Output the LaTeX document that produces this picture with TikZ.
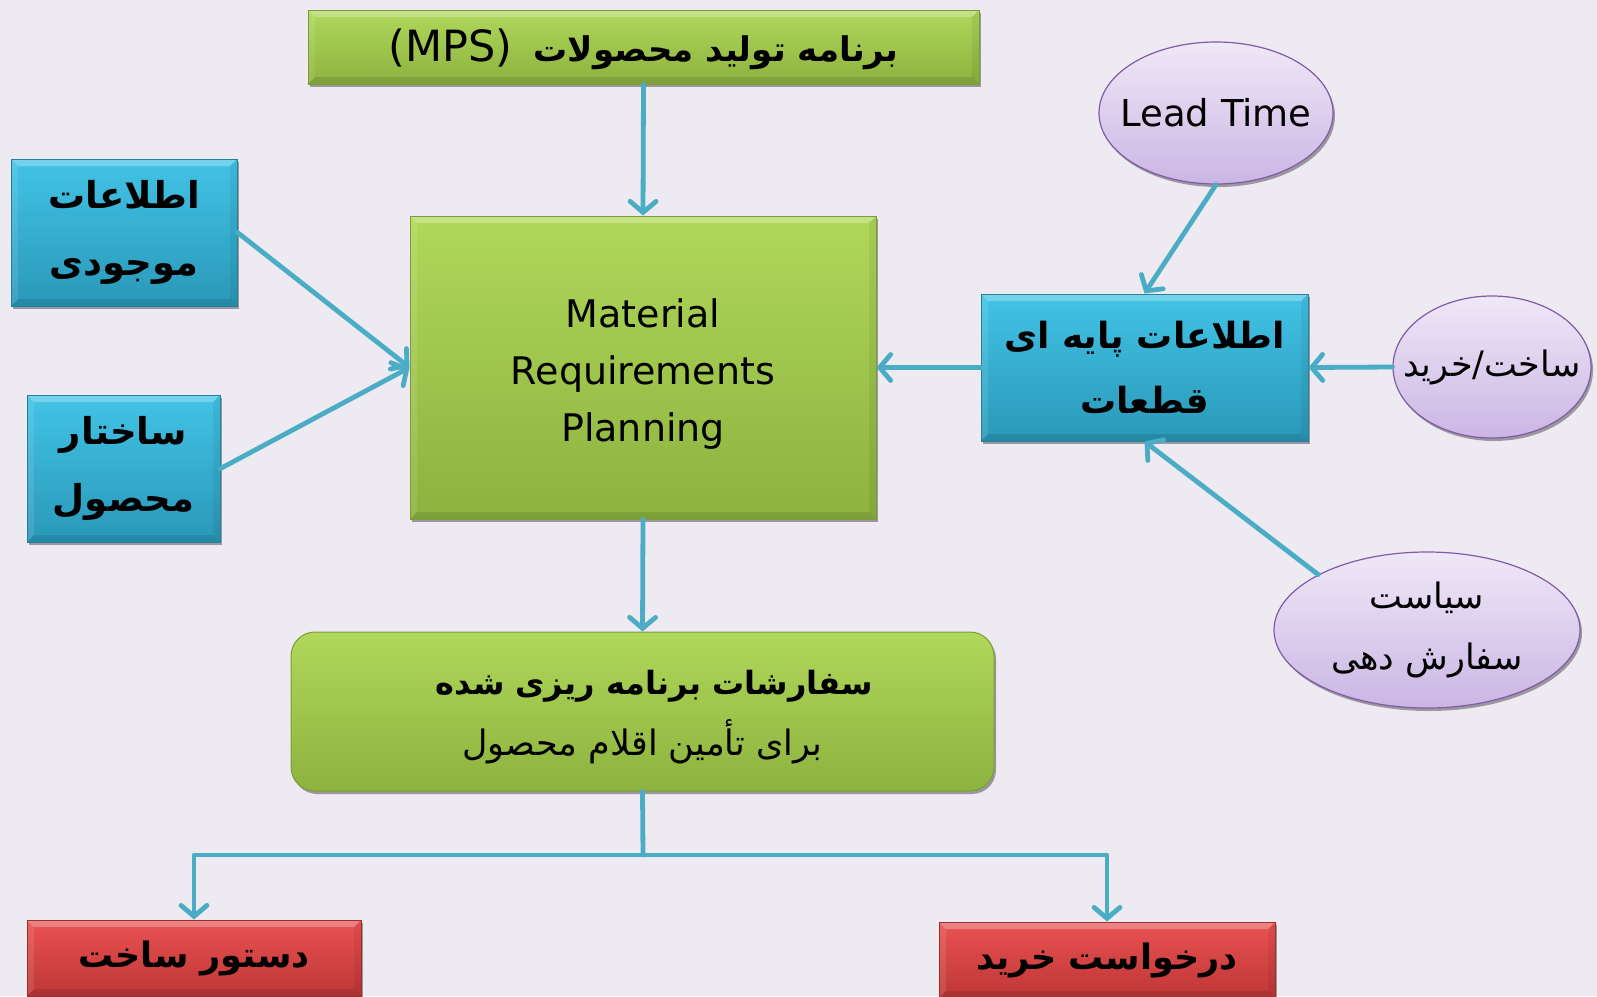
\documentclass[tikz,border=0pt]{standalone}
\usepackage{fontspec}
\setmainfont{DejaVu Sans}
\newfontfamily\ar[Script=Arabic]{DejaVu Sans}
\TeXXeTstate=1
\usetikzlibrary{arrows.meta,shadows,shapes.geometric}

\definecolor{bg}{HTML}{EDEAF1}
\definecolor{grnT}{HTML}{B0D85A}
\definecolor{grnD}{HTML}{8DB23F}
\definecolor{grnB}{HTML}{7C9C3A}
\definecolor{bluT}{HTML}{42C3E6}
\definecolor{bluD}{HTML}{2A98B8}
\definecolor{bluB}{HTML}{24809C}
\definecolor{redT}{HTML}{E95252}
\definecolor{redD}{HTML}{BF3636}
\definecolor{redB}{HTML}{9E2E2E}
\definecolor{ovT}{HTML}{EFE8F7}
\definecolor{ovD}{HTML}{CBB6E4}
\definecolor{ovB}{HTML}{7F5BA8}
\definecolor{lnk}{HTML}{4BACC6}

\newcommand\rl[1]{\beginR#1\endR}
\newcommand\fs[2]{\fontsize{#1}{#2}\selectfont}
% centred line that does not widen its node
\newcommand\zw[1]{\makebox[0pt]{#1}}

\tikzset{
  boxshadow/.style={drop shadow={shadow xshift=2pt,shadow yshift=-3pt,opacity=0.35,fill=black}},
  bevel/.style={path picture={
      \fill[white,opacity=0.28] (path picture bounding box.north west) -- (path picture bounding box.north east)
        -- ([xshift=-7pt,yshift=-7pt]path picture bounding box.north east)
        -- ([xshift=7pt,yshift=-7pt]path picture bounding box.north west) -- cycle;
      \fill[black,opacity=0.10] (path picture bounding box.south west) -- (path picture bounding box.south east)
        -- ([xshift=-7pt,yshift=7pt]path picture bounding box.south east)
        -- ([xshift=7pt,yshift=7pt]path picture bounding box.south west) -- cycle;
      \fill[black,opacity=0.06] (path picture bounding box.north east) -- (path picture bounding box.south east)
        -- ([xshift=-7pt,yshift=7pt]path picture bounding box.south east)
        -- ([xshift=-7pt,yshift=-7pt]path picture bounding box.north east) -- cycle;
      \fill[white,opacity=0.10] (path picture bounding box.north west) -- (path picture bounding box.south west)
        -- ([xshift=7pt,yshift=7pt]path picture bounding box.south west)
        -- ([xshift=7pt,yshift=-7pt]path picture bounding box.north west) -- cycle;
  }},
  greenbox/.style={rectangle,draw=grnB,line width=1pt,top color=grnT,bottom color=grnD,
    boxshadow,align=center,inner sep=0pt},
  bluebox/.style={rectangle,draw=bluB,line width=1pt,top color=bluT,bottom color=bluD,
    boxshadow,bevel,align=center,inner sep=0pt,font=\ar\bfseries\fs{37}{67}},
  redbox/.style={rectangle,draw=redB,line width=1pt,top color=redT,bottom color=redD,
    boxshadow,bevel,align=center,inner sep=0pt,font=\ar\bfseries\fs{35}{40}},
  oval/.style={ellipse,draw=ovB,line width=1.2pt,top color=ovT,bottom color=ovD,
    boxshadow,align=center,inner sep=0pt},
  link/.style={draw=lnk,line width=4.8pt,line cap=round,line join=round,
    -{Straight Barb[length=11pt,width=26pt,line cap=round]}},
  plainlink/.style={draw=lnk,line width=4.8pt,line cap=round,line join=round},
}

\begin{document}
\begin{tikzpicture}[x=1pt,y=-1pt]
  \fill[bg] (0,0) rectangle (1597,996);
  \useasboundingbox (0,0) rectangle (1597,996);

  % master schedule at the top
  \node[greenbox,bevel,minimum width=671pt,minimum height=74pt,font=\ar\fs{34}{44}] (mps) at (643.5,47)
    {\raisebox{-2pt}[\height][\depth]{\rl{{\bfseries برنامه تولید محصولات}\ \ {\fs{43}{44}\beginL(MPS)\endL}}}};

  % central MRP block
  \node[greenbox,bevel,minimum width=466pt,minimum height=303pt,font=\fs{38}{57}] (mrp) at (643,367.5)
    {\rule{0pt}{41pt}Material\\Requirements\\Planning};

  % inputs on the left
  \node[bluebox,minimum width=226pt,minimum height=147pt] (inv) at (124,232.5)
    {\rl{اطلاعات}\\\rl{موجودی}};
  \node[bluebox,minimum width=193pt,minimum height=147pt] (bom) at (123.5,468.5)
    {\rl{ساختار}\\\rl{محصول}};

  % item master data on the right
  \node[bluebox,minimum width=327pt,minimum height=147pt,font=\ar\bfseries\fs{36}{65}] (base) at (1144.5,367.5)
    {\rl{اطلاعات پایه ای}\\\rl{قطعات}};

  \node[oval,minimum width=234pt,minimum height=142pt,font=\fs{37}{40}] (lt) at (1216,113)
    {\zw{Lead Time}};
  \node[oval,minimum width=198pt,minimum height=142pt,font=\ar\fs{35}{40}] (mb) at (1492,367)
    {\zw{\rl{ساخت/خرید}}};
  \node[oval,minimum width=306pt,minimum height=156pt,font=\ar\fs{35}{61}] (pol) at (1427,630)
    {\zw{\rl{سیاست}}\\\zw{\rl{سفارش دهی}}};

  % planned orders
  \node[greenbox,rounded corners=24pt,minimum width=703pt,minimum height=159pt,font=\ar\fs{32}{61}] (ord) at (642.5,711.5)
    {\raisebox{-1pt}[\height][\depth]{\begin{tabular}{@{}c@{}}
       \kern24pt\rl{\bfseries سفارشات برنامه ریزی شده}\\
       {\fs{35}{61}\rl{برای تأمین اقلام محصول}}
     \end{tabular}}};

  % resulting orders
  \node[redbox,minimum width=334pt,minimum height=76pt] (mk) at (194,958)
    {\rl{دستور ساخت}};
  \node[redbox,minimum width=336pt,minimum height=76pt] (pr) at (1107,960)
    {\rl{درخواست خرید}};

  % connectors
  \draw[link] (mps.south) -- (mrp.north);
  \draw[link] (inv.east) -- (mrp.west);
  \draw[link] (bom.east) -- (mrp.west);
  \draw[link] (base.west) -- (mrp.east);
  \draw[link] (lt.south) -- (base.north);
  \draw[link] (mb.west) -- (base.east);
  \draw[link] (pol.153) -- (base.south);
  \draw[link] (mrp.south) -- (ord.north);

  \coordinate (bus) at (643,855);
  \draw[plainlink] (ord.south) -- (bus);
  \draw[link] (bus) -| (mk.north);
  \draw[link] (bus) -| (pr.north);
\end{tikzpicture}
\end{document}
